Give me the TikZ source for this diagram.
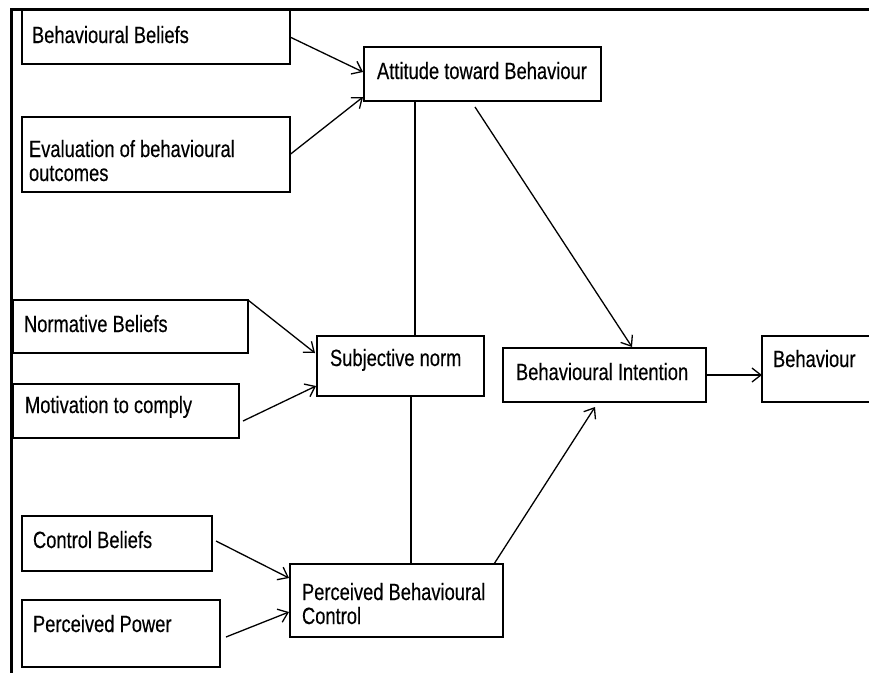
\documentclass[tikz,border=0pt]{standalone}
\usepackage{fontspec}
\setmainfont{Liberation Sans}[FakeStretch=0.78,FakeBold=0.35]
\usetikzlibrary{arrows.meta,calc}
\begin{document}
\begin{tikzpicture}[x=1pt,y=-1pt,
  box/.style={draw, line width=1.4pt, inner sep=0pt, outer sep=0pt, anchor=north west},
  lbl/.style={inner sep=0pt, outer sep=0pt, anchor=base west, align=left,
              font=\fontsize{23.5}{24}\selectfont},
  link/.style={line width=1.3pt},
  arr/.style={link, -{Straight Barb[length=9pt,width=14pt,line width=1.3pt]}}]
\useasboundingbox (0,0) rectangle (869,673);
% outer frame (top and left edges)
\coordinate (frameTR) at (869,9.5);
\coordinate (frameTL) at (11.5,9.5);
\coordinate (frameBL) at (11.5,673);
\draw[line width=3pt] (frameTR) -- (frameTL) -- (frameBL);

% boxes
\node[box, minimum width=268pt, minimum height=54pt] (bb)   at (22,10)  {};
\node[box, minimum width=268pt, minimum height=75pt] (ev)   at (22,117) {};
\node[box, minimum width=237pt, minimum height=54pt] (att)  at (364,47) {};
\node[box, minimum width=235pt, minimum height=53pt] (nb)   at (13,300) {};
\node[box, minimum width=226pt, minimum height=54pt] (mc)   at (13,384) {};
\node[box, minimum width=167pt, minimum height=60pt] (sn)   at (317,336) {};
\node[box, minimum width=203pt, minimum height=54pt] (bi)   at (503,348) {};
\node[box, minimum width=130pt, minimum height=66pt] (beh)  at (762,336) {};
\node[box, minimum width=190pt, minimum height=55pt] (cb)   at (22,516) {};
\node[box, minimum width=198pt, minimum height=67pt] (pp)   at (22,600) {};
\node[box, minimum width=213pt, minimum height=73pt] (pbc)  at (290,564) {};

% texts (multi-line labels are placed by the baseline of their last line)
\node[lbl] (bbT)  at (32,43)   {Behavioural Beliefs};
\node[lbl] (evT)  at (29,181)  {Evaluation of behavioural\\outcomes};
\node[lbl] (attT) at (377,79)  {Attitude toward Behaviour};
\node[lbl] (nbT)  at (24,332)  {Normative Beliefs};
\node[lbl] (mcT)  at (25,413)  {Motivation to comply};
\node[lbl] (snT)  at (330,366) {Subjective norm};
\node[lbl] (biT)  at (516,380) {Behavioural Intention};
\node[lbl] (behT) at (773,367) {Behaviour};
\node[lbl] (cbT)  at (33,548)  {Control Beliefs};
\node[lbl] (ppT)  at (33,632)  {Perceived Power};
\node[lbl] (pbcT) at (302,624) {Perceived Behavioural\\Control};

% connector end points
\coordinate (attIn1) at (363,72);
\coordinate (attIn2) at (363,97);
\coordinate (attOut) at (475,107);
\coordinate (biIn1)  at (632,347);
\coordinate (biIn2)  at (595,407);
\coordinate (snIn1)  at (315,353);
\coordinate (snIn2)  at (316,386);
\coordinate (mcOut)  at (243,421);
\coordinate (cbOut)  at (216,541);
\coordinate (ppOut)  at (226,637);
\coordinate (pbcIn1) at (289,578);
\coordinate (pbcIn2) at (289,612);
\coordinate (pbcOut) at (494,564);

% connectors
\draw[arr] (bb.east) -- (attIn1);
\draw[arr] (ev.east) -- (attIn2);
\draw[link] (att.south west -| 415,0) -- (sn.north west -| 415,0);
\draw[link] (sn.south west -| 411,0) -- (pbc.north west -| 411,0);
\draw[arr] (attOut) -- (biIn1);
\draw[arr] (nb.north east) -- (snIn1);
\draw[arr] (mcOut) -- (snIn2);
\draw[arr] (cbOut) -- (pbcIn1);
\draw[arr] (ppOut) -- (pbcIn2);
\draw[arr] (pbcOut) -- (biIn2);
\draw[arr] (bi.east) -- (beh.west |- bi.east);
\end{tikzpicture}
\end{document}
